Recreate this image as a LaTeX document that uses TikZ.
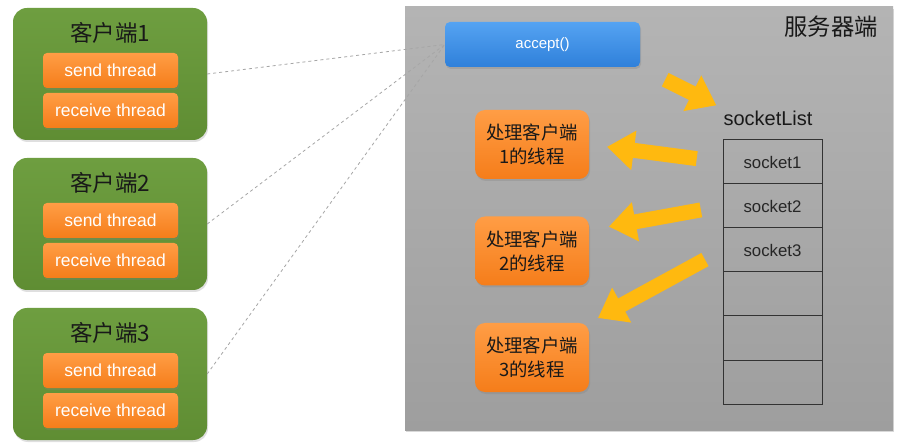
\documentclass[tikz,border=0pt]{standalone}
\usepackage{fontspec}
\setmainfont{Liberation Sans}
\newfontfamily\cjk{Noto Sans CJK SC}
\usetikzlibrary{arrows.meta,shadows}
\definecolor{clientgreen}{HTML}{5F8D33}
\definecolor{clientgreenlt}{HTML}{6E9E40}
\definecolor{threadorange}{HTML}{F57D1A}
\definecolor{threadorangelt}{HTML}{FF9D45}
\definecolor{acceptblue}{HTML}{2F80DA}
\definecolor{acceptbluelt}{HTML}{55A3F2}
\definecolor{servergray}{HTML}{9E9E9E}
\definecolor{servergraylt}{HTML}{B4B4B4}
\definecolor{bigarrow}{HTML}{FFB90F}
\begin{document}
\begin{tikzpicture}[
                x=1pt, y=-1pt,
                clientbox/.style={rectangle, rounded corners=14pt, minimum width=194pt, minimum height=132pt,
                    top color=clientgreenlt, bottom color=clientgreen,
                    drop shadow={opacity=0.25, shadow xshift=1pt, shadow yshift=-2pt}},
                threadbox/.style={rectangle, rounded corners=4pt, minimum width=135pt, minimum height=35pt,
                    top color=threadorangelt, bottom color=threadorange, text=white, font=\fontsize{17.5}{19}\selectfont,
                    drop shadow={opacity=0.3, shadow xshift=1pt, shadow yshift=-2pt}},
                handlebox/.style={rectangle, rounded corners=10pt, minimum width=114pt, minimum height=69pt,
                    top color=threadorangelt, bottom color=threadorange, align=center,
                    font=\cjk\fontsize{18.4}{24}\selectfont, text=black!90,
                    drop shadow={opacity=0.3, shadow xshift=1pt, shadow yshift=-2pt}},
                socketcell/.style={rectangle, draw=black!80, line width=1pt, minimum width=99pt, minimum height=44pt,
                    font=\fontsize{16.8}{18}\selectfont, text=black!85},
                dashlink/.style={draw=gray!70, dashed, line width=0.8pt},
                fatarrow/.style={draw=bigarrow, line width=15pt, -{Triangle[length=27pt, width=38pt]}}
            ]
                \useasboundingbox[fill=white] (0,0) rectangle (897,446);

                % Server area
                \node[rectangle, minimum width=488pt, minimum height=423pt, top color=servergraylt, bottom color=servergray,
                    drop shadow={opacity=0.3, shadow xshift=1pt, shadow yshift=-2pt}] (server) at (649,218.5) {};
                \node[font=\cjk\fontsize{23.3}{25}\selectfont, text=black!90] (servertitle) at (831,27) {服务器端};
                \node[rectangle, rounded corners=5pt, minimum width=195pt, minimum height=45pt,
                    top color=acceptbluelt, bottom color=acceptblue, text=white, font=\fontsize{15}{17}\selectfont,
                    drop shadow={opacity=0.3, shadow xshift=1pt, shadow yshift=-2pt}] (accept) at (542.5,44.5) {accept()};

                % Client boxes (3 clients)
                \foreach \i in {1,2,3} {
                    \node[clientbox] (C\i) at (110,{74+150*(\i-1)}) {};
                    \node[font=\cjk\fontsize{22.5}{24}\selectfont, text=black!90] (CT\i) at (110,{33+150*(\i-1)}) {客户端\i};
                    \node[threadbox] (S\i) at (110.5,{70.5+150*(\i-1)}) {send thread};
                    \node[threadbox] (R\i) at (110.5,{110.5+150*(\i-1)}) {receive thread};
                }

                % socketList (6 cells)
                \node[font=\fontsize{20}{22}\selectfont, text=black!90] (list) at (768,118) {socketList};
                \foreach \k/\t in {1/socket1,2/socket2,3/socket3,4/{},5/{},6/{}}
                    \node[socketcell] (SK\k) at (772.5,{162+44*(\k-1)}) {\t};

                % Handler threads
                \node[handlebox] (H1) at (532,144.5) {处理客户端\\1的线程};
                \node[handlebox] (H2) at (532,251) {处理客户端\\2的线程};
                \node[handlebox] (H3) at (532,357.5) {处理客户端\\3的线程};

                % Connections - Client to accept
                \foreach \i in {1,2,3}
                    \draw[dashlink] (C\i.east) -- (accept.west);

                % Big arrows
                \draw[fatarrow, shorten <=28pt, shorten >=4pt] (accept.south east) -- (list.north west);
                \draw[fatarrow, shorten <=26pt, shorten >=18pt] (SK1.west) -- (H1.east);
                \draw[fatarrow, shorten <=22pt, shorten >=20pt] (SK2.west) -- (H2.20);
                \draw[fatarrow, shorten <=20pt, shorten >=10pt] (SK3.west) -- (H3.north east);
            \end{tikzpicture}
\end{document}
